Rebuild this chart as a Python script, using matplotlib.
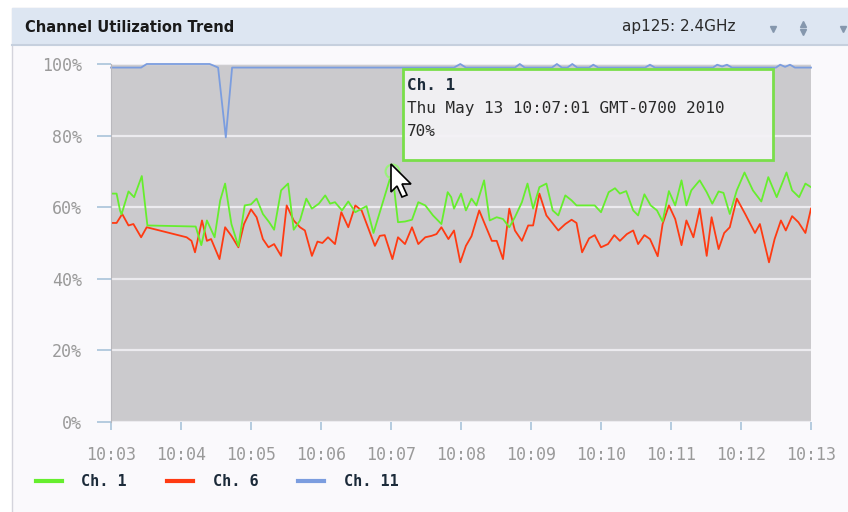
import matplotlib.pyplot as plt
from matplotlib.lines import Line2D
from matplotlib.patches import Rectangle, Polygon

# minutes after 10:03 and channel utilization (%)
ch1_t = [0.01, 0.08, 0.13, 0.15, 0.25, 0.33, 0.44, 0.52, 1.21, 1.29, 1.37, 1.48, 1.56, 1.63,
         1.72, 1.82, 1.91, 2.00, 2.08, 2.17, 2.26, 2.33, 2.43, 2.53, 2.61, 2.70, 2.79, 2.87,
         2.97, 3.06, 3.13, 3.20, 3.30, 3.39, 3.49, 3.65, 3.75, 4.017, 4.10, 4.20, 4.30, 4.39,
         4.49, 4.60, 4.72, 4.81, 4.86, 4.90, 5.00, 5.07, 5.15, 5.22, 5.33, 5.41, 5.51, 5.60,
         5.69, 5.77, 5.87, 5.95, 6.03, 6.12, 6.22, 6.31, 6.39, 6.49, 6.58, 6.65, 6.91, 7.00,
         7.11, 7.20, 7.27, 7.36, 7.46, 7.53, 7.62, 7.71, 7.80, 7.88, 7.97, 8.06, 8.15, 8.22,
         8.29, 8.41, 8.51, 8.59, 8.68, 8.75, 8.84, 8.94, 9.05, 9.17, 9.29, 9.39, 9.51, 9.65,
         9.73, 9.83, 9.92, 10.0]
ch1_v = [63.8, 63.8, 59.0, 58.0, 64.4, 62.8, 68.7, 54.9, 54.6, 49.4, 56.3, 51.6, 61.9, 66.6,
         55.3, 49.1, 60.5, 60.8, 62.4, 58.1, 55.8, 53.7, 64.7, 66.6, 53.7, 56.3, 62.4, 59.6,
         61.0, 63.3, 61.0, 61.4, 59.1, 61.6, 58.6, 60.3, 52.8, 70.0, 55.8, 56.0, 56.5, 61.4,
         60.5, 57.7, 55.3, 64.2, 62.8, 59.6, 63.8, 59.1, 62.4, 60.5, 67.5, 56.3, 57.2, 56.7,
         54.4, 57.2, 61.4, 66.6, 59.6, 65.6, 66.6, 59.1, 57.7, 63.3, 61.9, 60.5, 60.5, 58.6,
         64.2, 65.3, 63.8, 64.5, 59.1, 57.7, 63.6, 60.5, 59.1, 56.0, 64.5, 60.5, 67.5, 60.5,
         64.7, 67.5, 64.2, 61.0, 64.4, 64.0, 58.1, 64.7, 69.7, 64.7, 61.6, 68.4, 62.8, 69.7,
         64.7, 62.8, 66.6, 65.6]

ch6_t = [0.01, 0.08, 0.16, 0.25, 0.32, 0.43, 0.51, 1.08, 1.15, 1.20, 1.30, 1.37, 1.43, 1.55,
         1.63, 1.72, 1.82, 1.90, 2.00, 2.08, 2.17, 2.25, 2.33, 2.43, 2.51, 2.61, 2.70, 2.77,
         2.87, 2.95, 3.02, 3.10, 3.20, 3.29, 3.39, 3.49, 3.58, 3.68, 3.77, 3.84, 3.91, 4.02,
         4.10, 4.20, 4.30, 4.39, 4.49, 4.58, 4.65, 4.72, 4.82, 4.90, 4.99, 5.07, 5.15, 5.26,
         5.34, 5.44, 5.51, 5.60, 5.69, 5.77, 5.87, 5.96, 6.03, 6.12, 6.22, 6.39, 6.49, 6.58,
         6.65, 6.73, 6.83, 6.91, 7.00, 7.10, 7.19, 7.27, 7.37, 7.46, 7.53, 7.62, 7.70, 7.81,
         7.88, 7.97, 8.06, 8.15, 8.22, 8.32, 8.41, 8.51, 8.58, 8.68, 8.76, 8.84, 8.94, 9.06,
         9.20, 9.27, 9.40, 9.48, 9.57, 9.64, 9.73, 9.82, 9.92, 10.0]
ch6_v = [55.6, 55.6, 58.1, 54.9, 55.3, 51.6, 54.4, 51.6, 50.6, 47.4, 56.3, 50.6, 51.1, 45.5,
         54.4, 52.0, 48.8, 55.3, 59.4, 57.2, 51.1, 48.8, 49.7, 46.4, 60.5, 56.3, 54.4, 53.5,
         46.4, 50.4, 50.0, 51.6, 49.7, 58.6, 54.4, 60.5, 59.1, 53.9, 49.2, 52.0, 52.2, 45.5,
         51.6, 49.7, 54.4, 49.7, 51.6, 52.0, 52.5, 54.4, 51.1, 53.5, 44.6, 49.2, 51.9, 59.1,
         55.3, 50.6, 50.6, 45.5, 59.6, 53.5, 50.6, 54.9, 54.9, 63.8, 57.7, 53.5, 55.3, 56.5,
         55.6, 47.4, 51.3, 52.2, 48.8, 49.7, 52.2, 50.6, 52.5, 53.5, 49.7, 52.2, 51.1, 46.3,
         55.3, 60.5, 56.7, 49.4, 56.3, 51.6, 59.6, 46.4, 57.2, 48.3, 52.8, 54.4, 62.4, 58.1,
         52.8, 55.3, 44.6, 51.1, 56.3, 53.5, 57.5, 55.8, 52.8, 59.6]

ch11_t = [0.0, 0.43, 0.51, 1.41, 1.46, 1.53, 1.64, 1.73, 4.90, 4.99, 5.07, 5.77, 5.84, 5.91,
          6.30, 6.37, 6.44, 6.52, 6.59, 6.66, 6.83, 6.89, 6.96, 7.63, 7.70, 7.77, 8.60, 8.66,
          8.73, 8.80, 8.87, 9.50, 9.56, 9.63, 9.70, 9.77, 10.0]
ch11_v = [99.0, 99.0, 100.0, 100.0, 99.6, 99.0, 79.5, 99.0, 99.0, 100.0, 99.0, 99.0, 100.0, 99.0,
          99.0, 100.0, 99.0, 99.0, 100.0, 99.0, 99.0, 99.8, 99.0, 99.0, 99.8, 99.0, 99.0, 99.8,
          99.3, 99.8, 99.0, 99.0, 99.8, 99.2, 99.8, 99.0, 99.0]

time_labels = ['10:03', '10:04', '10:05', '10:06', '10:07', '10:08',
               '10:09', '10:10', '10:11', '10:12', '10:13']
pct_ticks = [0, 20, 40, 60, 80, 100]

hover_t, hover_v = 4.017, 70.0
tip_lines = ['Ch. 1', 'Thu May 13 10:07:01 GMT-0700 2010', '70%']

GREEN = '#66ee2e'
RED = '#ff3a12'
BLUE = '#7b9ddf'
MONO = 'DejaVu Sans Mono'

W, H = 848, 512
fig = plt.figure(figsize=(W / 100, H / 100), dpi=100)
fig.patch.set_facecolor('white')

# panel frame and header bar, drawn in pixel units
bg = fig.add_axes([0, 0, 1, 1], zorder=0)
bg.set_xlim(0, W)
bg.set_ylim(H, 0)
bg.axis('off')
bg.add_patch(Rectangle((12, 8), 840, 510, fc='#faf9fc', ec='#d4d4dc', lw=1))
bg.add_patch(Rectangle((12, 8), 840, 37, fc='#dde6f2', ec='none'))
bg.plot([12, W], [45, 45], color='#c6d0de', lw=1.5)
bg.text(25, 27, 'Channel Utilization Trend', fontsize=10.5, fontweight='bold',
        color='#1a1a1a', va='center', ha='left')
bg.text(622, 27, 'ap125: 2.4GHz', fontsize=11, color='#2a2a2a', va='center', ha='left')
bg.plot([773, 843], [29, 29], ls='none', marker='v', ms=5, color='#8597ad')
bg.plot([803], [24], marker='^', ms=4, color='#8597ad')
bg.plot([803], [32], marker='v', ms=4, color='#8597ad')

# chart area
ax = fig.add_axes([111 / W, 1 - 422 / H, 700 / W, 358 / H], zorder=1)
ax.set_facecolor('#cbcacd')
ax.set_xlim(0, 10)
ax.set_ylim(0, 100)
ax.set_yticks(pct_ticks)
ax.set_yticklabels(['%d%%' % p for p in pct_ticks])
ax.set_xticks(range(len(time_labels)))
ax.set_xticklabels(time_labels)
ax.grid(axis='y', color='#ecebef', lw=1.6)
ax.set_axisbelow(True)
for s in ['top', 'right', 'bottom']:
    ax.spines[s].set_visible(False)
ax.spines['left'].set_color('#b9b8bd')
ax.tick_params(axis='y', length=10, width=1.2, color='#a9c3da', pad=11,
               labelsize=12, labelcolor='#9a9a9a')
ax.tick_params(axis='x', length=6, width=1.2, color='#a9c3da', pad=11,
               labelsize=12, labelcolor='#9a9a9a')
for lab in ax.get_xticklabels() + ax.get_yticklabels():
    lab.set_family(MONO)

ax.plot(ch11_t, ch11_v, color=BLUE, lw=1.3, clip_on=False)
ax.plot(ch6_t, ch6_v, color=RED, lw=1.3)
ax.plot(ch1_t, ch1_v, color=GREEN, lw=1.3)
ax.plot([hover_t], [hover_v], marker='o', ms=10, mfc='none', mec='#9af27a', mew=1.5)

# legend below the axis
handles = [Line2D([], [], color=GREEN, lw=3),
           Line2D([], [], color=RED, lw=3),
           Line2D([], [], color=BLUE, lw=3)]
fig.legend(handles, ['Ch. 1', 'Ch. 6', 'Ch. 11'], loc='center left',
           bbox_to_anchor=(28 / W, 1 - 482 / H), ncol=3, frameon=False,
           borderpad=0, handlelength=1.7, handletextpad=1.3, columnspacing=2.6,
           prop={'family': MONO, 'weight': 'bold', 'size': 11},
           labelcolor='#1c2b3a')

# tooltip and mouse pointer on top
fg = fig.add_axes([0, 0, 1, 1], zorder=5)
fg.set_xlim(0, W)
fg.set_ylim(H, 0)
fg.axis('off')
fg.patch.set_alpha(0)
fg.add_patch(Rectangle((403, 69), 370, 91, fc=(0.955, 0.95, 0.965, 0.93),
                       ec='#7ade4a', lw=2))
fg.text(407, 86, tip_lines[0], family=MONO, fontweight='bold', fontsize=11.5,
        color='#1c2b3a', va='center')
fg.text(407, 108, tip_lines[1], family=MONO, fontsize=11.5, color='#2a2a2a', va='center')
fg.text(407, 131, tip_lines[2], family=MONO, fontsize=11.5, color='#2a2a2a', va='center')

cx, cy = 391, 164
arrow = [(0, 0), (0, 28), (6, 22), (11, 33), (16, 31), (11, 20), (20, 20)]
fg.add_patch(Polygon([(cx + x, cy + y) for x, y in arrow], closed=True,
                     fc='white', ec='black', lw=1.2))

fig.savefig('out.png', dpi=100)
